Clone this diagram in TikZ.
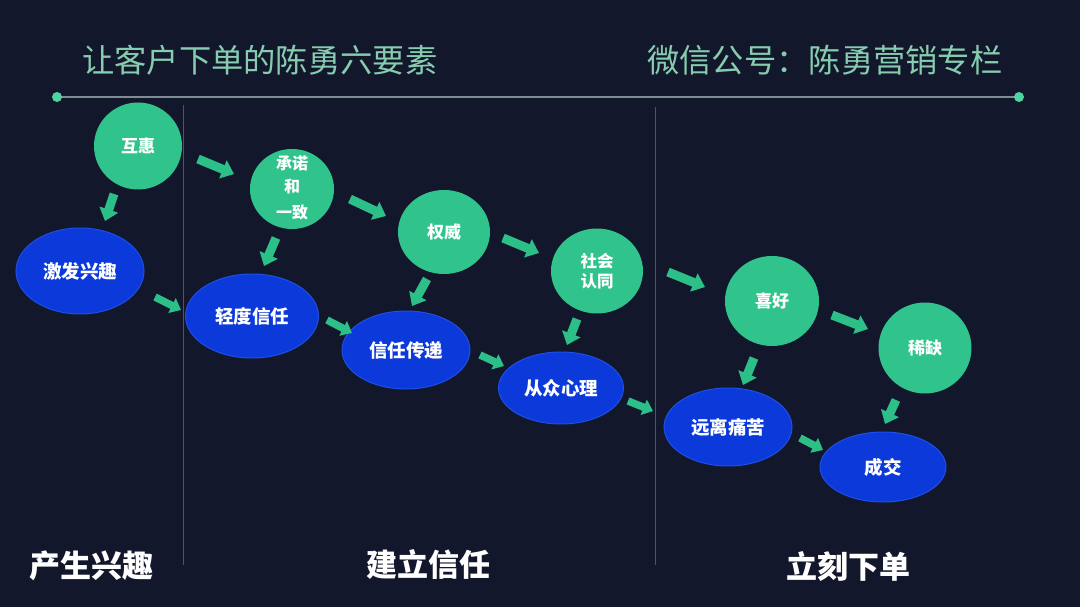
\documentclass[tikz,border=0pt]{standalone}
\usepackage{fontspec}
\newfontfamily\cjk{Noto Sans CJK SC}
\usetikzlibrary{shapes.geometric,arrows.meta,calc}
\definecolor{bg}{HTML}{13172B}
\definecolor{gnode}{HTML}{30C48C}
\definecolor{garrow}{HTML}{2DBF88}
\definecolor{bnode}{HTML}{0B39DA}
\definecolor{bedge}{HTML}{1E4FE6}
\definecolor{titlec}{HTML}{86CCAE}
\definecolor{rulec}{HTML}{7E8C96}
\definecolor{vline}{HTML}{4E5664}
\definecolor{dotc}{HTML}{4FD3A0}
\tikzset{
  gball/.style={ellipse, fill=gnode, inner sep=0pt, text=white, font=\cjk\bfseries\fontsize{17}{20}\selectfont, align=center},
  bball/.style={ellipse, fill=bnode, draw=bedge, line width=1pt, inner sep=0pt, text=white, font=\cjk\bfseries\fontsize{18.5}{20}\selectfont},
  flow/.style={draw=garrow, line width=9pt, -{Triangle[width=19pt,length=12pt]}},
  sflow/.style={draw=garrow, line width=7.5pt, -{Triangle[width=16pt,length=10pt]}},
  phase/.style={text=white, font=\cjk\bfseries\fontsize{31}{34}\selectfont},
  titletext/.style={text=titlec, font=\cjk\fontsize{32.3}{34}\selectfont, anchor=west, inner sep=0pt},
}
\begin{document}
\begin{tikzpicture}[x=1pt,y=-1pt]
\fill[bg] (0,0) rectangle (1080,607);
\useasboundingbox (0,0) rectangle (1080,607);

% header
\node[titletext] (t1) at (82,60) {让客户下单的陈勇六要素};
\node[titletext] (t2) at (647,60) {微信公号：陈勇营销专栏};
\coordinate (ra) at (57,97);
\coordinate (rb) at (1019,97);
\draw[rulec, line width=1.3pt] (ra) -- (rb);
\fill[dotc] (ra) circle (5);
\fill[dotc] (rb) circle (5);

% phase separators
\coordinate (v1a) at (183,105); \coordinate (v1b) at (183,565);
\coordinate (v2a) at (655,107); \coordinate (v2b) at (655,565);
\draw[vline, line width=1pt] (v1a) -- (v1b);
\draw[vline, line width=1pt] (v2a) -- (v2b);

% green principles
\node[gball, minimum width=88pt, minimum height=87pt] (hh) at (138,146) {互惠};
\node[gball, minimum width=84pt, minimum height=80pt, font=\cjk\bfseries\fontsize{16}{18}\selectfont] (cn) at (292,189) {};
\node[text=white, font=\cjk\bfseries\fontsize{16}{18}\selectfont, inner sep=0pt] (cn1) at (292,163) {承诺};
\node[text=white, font=\cjk\bfseries\fontsize{16}{18}\selectfont, inner sep=0pt] (cn2) at (292,186) {和};
\node[text=white, font=\cjk\bfseries\fontsize{16}{18}\selectfont, inner sep=0pt] (cn3) at (292,212) {一致};
\node[gball, minimum width=92pt, minimum height=84pt] (qw) at (444,232) {权威};
\node[gball, minimum width=92pt, minimum height=85pt, font=\cjk\bfseries\fontsize{16.5}{20}\selectfont] (sh) at (597,271) {社会\\认同};
\node[gball, minimum width=94pt, minimum height=90pt] (xh) at (772,301) {喜好};
\node[gball, minimum width=93pt, minimum height=91pt] (xq) at (925,348) {稀缺};

% blue outcomes
\node[bball, minimum width=128pt, minimum height=86pt] (jf) at (80,271) {激发兴趣};
\node[bball, minimum width=133pt, minimum height=84pt] (qd) at (252,316) {轻度信任};
\node[bball, minimum width=128pt, minimum height=78pt] (xr) at (406,350) {信任传递};
\node[bball, minimum width=125pt, minimum height=72pt] (cz) at (561,388) {从众心理};
\node[bball, minimum width=128pt, minimum height=78pt] (yl) at (728,427) {远离痛苦};
\node[bball, minimum width=126pt, minimum height=70pt] (cj) at (883,467) {成交};

% arrows
\draw[flow]  ($(hh)+(-24,48)$) -- ($(jf)+(25,-50)$);
\draw[sflow] ($(jf)+(75,26)$)  -- ($(qd)+(-71,-6)$);
\draw[flow]  ($(hh)+(60,13)$)  -- ($(cn)+(-58,-15)$);
\draw[flow]  ($(cn)+(-16,49)$) -- ($(qd)+(12,-50)$);
\draw[sflow] ($(qd)+(75,4)$)   -- ($(xr)+(-54,-17)$);
\draw[flow]  ($(cn)+(58,10)$)  -- ($(qw)+(-58,-16)$);
\draw[flow]  ($(qw)+(-17,47)$) -- ($(xr)+(6,-44)$);
\draw[sflow] ($(xr)+(74,5)$)   -- ($(cz)+(-57,-22)$);
\draw[flow]  ($(qw)+(59,6)$)   -- ($(sh)+(-58,-18)$);
\draw[flow]  ($(sh)+(-20,48)$) -- ($(cz)+(6,-43)$);
\draw[sflow] ($(cz)+(67,13)$)  -- ($(yl)+(-75,-16)$);
\draw[flow]  ($(sh)+(71,1)$)   -- ($(xh)+(-67,-14)$);
\draw[flow]  ($(xh)+(-18,57)$) -- ($(yl)+(15,-42)$);
\draw[sflow] ($(yl)+(72,11)$)  -- ($(cj)+(-60,-17)$);
\draw[flow]  ($(xh)+(60,14)$)  -- ($(xq)+(-57,-19)$);
\draw[flow]  ($(xq)+(-29,52)$) -- ($(cj)+(2,-43)$);

% phase labels
\node[phase] (p1) at (92,566) {产生兴趣};
\node[phase] (p2) at (428,565) {建立信任};
\node[phase] (p3) at (848,567) {立刻下单};
\end{tikzpicture}
\end{document}
